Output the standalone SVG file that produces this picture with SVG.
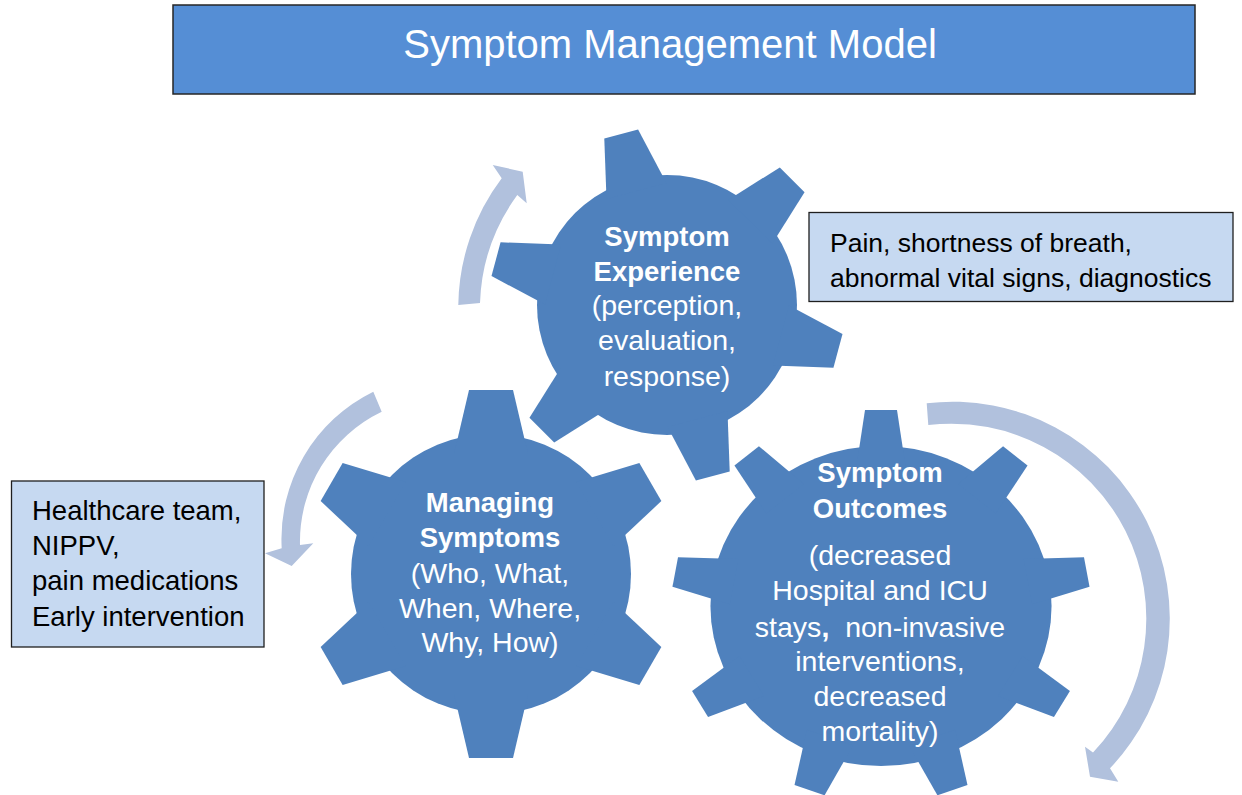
<svg xmlns="http://www.w3.org/2000/svg" width="1242" height="795" viewBox="0 0 1242 795">
  <style>
    .gear { fill: #4F81BD; }
    .arrow { fill: #B1C1DD; stroke: none; }
    .box { fill: #C6D9F1; stroke: #1F1F1F; stroke-width: 1.3; }
    .title-box { fill: #558ED5; stroke: #262626; stroke-width: 1.5; }
    .gb { font-family: "Liberation Sans", Arial, sans-serif; font-weight: bold; font-size: 27.5px; fill: #FFFFFF; text-anchor: middle; }
    .gr { font-family: "Liberation Sans", Arial, sans-serif; font-size: 28.5px; fill: #FFFFFF; text-anchor: middle; }
    .bt { font-family: "Liberation Sans", Arial, sans-serif; fill: #000000; }
    .tt { font-family: "Liberation Sans", Arial, sans-serif; font-size: 40px; fill: #FFFFFF; text-anchor: middle; }
  </style>
  <defs>
    <polygon id="tooth1" points="-31,-118 -17.5,-177 17.5,-177 31,-118"/>
    <polygon id="tooth2" points="-37,-120 -22,-184 22,-184 37,-120"/>
    <polygon id="tooth3" points="-23,-140 -15,-196 15,-196 23,-140"/>
  </defs>

  <rect width="1242" height="795" fill="#FFFFFF"/>

  <g id="title">
    <rect class="title-box" x="173" y="5" width="1022" height="89"/>
    <text class="tt" x="670" y="58">Symptom Management Model</text>
  </g>

  <g id="connectors">
    <path class="arrow" d="M458.3,305 A215,215 0 0 1 501.7,178.3 L492.7,165 L522.7,171.7 L526.7,203.3 L517.3,195 A194,194 0 0 0 480,303 Z"/>
    <path class="arrow" d="M373.3,391.7 A164,164 0 0 0 281.7,548.3 L265,553.3 L291.7,566 L313.3,543.3 L300,545 A144,144 0 0 1 381.7,411.7 Z"/>
    <path class="arrow" d="M926.7,403.3 A217,217 0 0 1 1110,768.3 L1118.3,781.7 L1090,776.7 L1085,746.7 L1093,752.6 A195,195 0 0 0 928.3,425 Z"/>
  </g>

  <g id="gear-experience">
    <g class="gear" transform="translate(667,305)">
      <circle r="130"/>
      <use href="#tooth1" transform="rotate(-15)"/>
      <use href="#tooth1" transform="rotate(45)"/>
      <use href="#tooth1" transform="rotate(105)"/>
      <use href="#tooth1" transform="rotate(165)"/>
      <use href="#tooth1" transform="rotate(225)"/>
      <use href="#tooth1" transform="rotate(285)"/>
    </g>
    <text class="gb" x="667" y="246">Symptom</text>
    <text class="gb" x="667" y="281">Experience</text>
    <text class="gr" x="667" y="315">(perception,</text>
    <text class="gr" x="667" y="350">evaluation,</text>
    <text class="gr" x="667" y="386">response)</text>
  </g>

  <g id="gear-managing">
    <g class="gear" transform="translate(491,574)">
      <circle r="140"/>
      <use href="#tooth2" transform="rotate(0)"/>
      <use href="#tooth2" transform="rotate(60)"/>
      <use href="#tooth2" transform="rotate(120)"/>
      <use href="#tooth2" transform="rotate(180)"/>
      <use href="#tooth2" transform="rotate(240)"/>
      <use href="#tooth2" transform="rotate(300)"/>
    </g>
    <text class="gb" x="490" y="512">Managing</text>
    <text class="gb" x="490" y="547">Symptoms</text>
    <text class="gr" x="490" y="583">(Who, What,</text>
    <text class="gr" x="490" y="618">When, Where,</text>
    <text class="gr" x="490" y="652">Why, How)</text>
  </g>

  <g id="gear-outcomes">
    <g class="gear" transform="translate(881,606) scale(1.066,1)">
      <circle r="160"/>
      <use href="#tooth3" transform="rotate(0)"/>
      <use href="#tooth3" transform="rotate(40)"/>
      <use href="#tooth3" transform="rotate(80)"/>
      <use href="#tooth3" transform="rotate(120)"/>
      <use href="#tooth3" transform="rotate(160)"/>
      <use href="#tooth3" transform="rotate(200)"/>
      <use href="#tooth3" transform="rotate(240)"/>
      <use href="#tooth3" transform="rotate(280)"/>
      <use href="#tooth3" transform="rotate(320)"/>
    </g>
    <text class="gb" x="880" y="482">Symptom</text>
    <text class="gb" x="880" y="518">Outcomes</text>
    <text class="gr" x="880" y="565">(decreased</text>
    <text class="gr" x="880" y="600">Hospital and ICU</text>
    <text class="gr" x="880" y="637" style="white-space:pre">stays<tspan font-weight="bold">,</tspan>  non-invasive</text>
    <text class="gr" x="880" y="671">interventions,</text>
    <text class="gr" x="880" y="706">decreased</text>
    <text class="gr" x="880" y="741">mortality)</text>
  </g>

  <g id="box-experience">
    <rect class="box" x="809" y="212.5" width="424" height="89"/>
    <text class="bt" x="830" y="252" font-size="26.5">Pain, shortness of breath,</text>
    <text class="bt" x="830" y="287" font-size="26.5">abnormal vital signs, diagnostics</text>
  </g>

  <g id="box-managing">
    <rect class="box" x="11.5" y="481" width="252.5" height="166"/>
    <text class="bt" x="32" y="520" font-size="27.5">Healthcare team,</text>
    <text class="bt" x="32" y="555" font-size="27.5">NIPPV,</text>
    <text class="bt" x="32" y="590" font-size="27.5">pain medications</text>
    <text class="bt" x="32" y="626" font-size="27.5">Early intervention</text>
  </g>
</svg>
